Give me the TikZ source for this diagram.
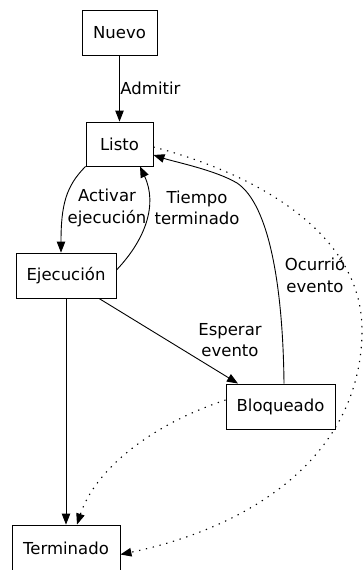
\documentclass[tikz,border=0pt]{standalone}
\usepackage{fontspec}
\setmainfont{DejaVu Sans}
\usetikzlibrary{arrows.meta}
\begin{document}
\begin{tikzpicture}[x=1pt,y=-1pt,
  every node/.style={font=\fontsize{16.5}{21.5}\selectfont},
  state/.style={draw, line width=0.9pt, rectangle, inner sep=0pt, anchor=center},
  lbl/.style={align=center, inner sep=0pt},
  conn/.style={line width=0.9pt, -{Triangle[length=11pt,width=8.5pt]}},
  dotconn/.style={conn, dash pattern=on 1.3pt off 5.7pt, line width=1.1pt}]
\useasboundingbox (0,0) rectangle (363,570);
\node[state, minimum width=75pt, minimum height=45pt] (nuevo) at (119.5,32.5) {Nuevo};
\node[state, minimum width=67pt, minimum height=44pt] (listo) at (119.5,144) {Listo};
\node[state, minimum width=100pt, minimum height=45pt] (ejec) at (66,275.5) {Ejecución};
\node[state, minimum width=109pt, minimum height=45pt] (bloq) at (280.5,406.5) {Bloqueado};
\node[state, minimum width=108pt, minimum height=46pt] (term) at (66,548) {Terminado};

\draw[conn] (nuevo.south) -- node[lbl, right, xshift=0.5pt] {Admitir} (listo.north);
\draw[conn] (listo.south west) .. controls (66,186) and (61,205) .. ([xshift=-5pt]ejec.north);
\node[lbl] (tact) at (107,208) {Activar\\ejecución};
\draw[conn] ([yshift=-17.5pt]ejec.north east) .. controls (145,240) and (158,205) .. ([xshift=20.5pt]listo.south);
\node[lbl] (ttie) at (197,208) {Tiempo\\terminado};
\draw[conn] ([xshift=33pt]ejec.south) -- ([xshift=-42.5pt]bloq.north);
\node[lbl] (tesp) at (230,340) {Esperar\\evento};
\draw[conn] ([xshift=3.5pt]bloq.north) .. controls (283,290) and (270,205) .. (237,183) .. controls (215,170) and (175,162) .. ([yshift=-11pt]listo.east);
\node[lbl] (tocu) at (315,275) {Ocurrió\\evento};
\draw[conn] (ejec.south) -- (term.north);
\draw[dotconn] ([yshift=-3pt]listo.east) .. controls (250,172) and (362,230) .. (362,330) .. controls (362,450) and (260,525) .. ([yshift=-6.5pt]term.east);
\draw[dotconn] ([yshift=6.5pt]bloq.west) .. controls (150,425) and (95,470) .. ([xshift=11pt]term.north);
\end{tikzpicture}
\end{document}
